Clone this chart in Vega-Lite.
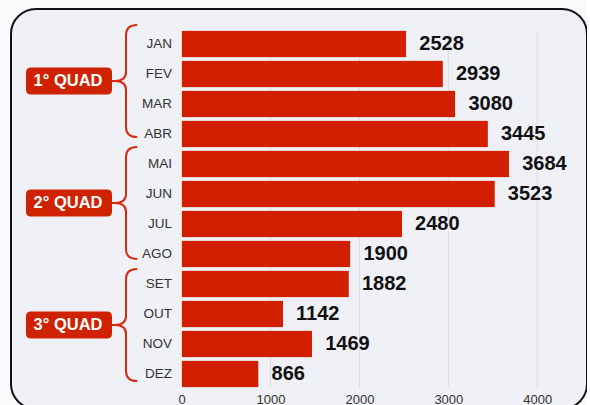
{
  "$schema": "https://vega.github.io/schema/vega-lite/v6.json",
  "width": 576,
  "height": 400,
  "autosize": {"type": "none"},
  "padding": {"left": 11, "top": 9, "right": 0, "bottom": 0},
  "background": "#fafafc",
  "config": {
    "view": {"stroke": "#111111", "strokeWidth": 2, "cornerRadius": 25, "fill": "#f0f0f7"},
    "font": "Liberation Sans"
  },
  "datasets": {
    "months": [
      {"month": "JAN", "value": 2528},
      {"month": "FEV", "value": 2939},
      {"month": "MAR", "value": 3080},
      {"month": "ABR", "value": 3445},
      {"month": "MAI", "value": 3684},
      {"month": "JUN", "value": 3523},
      {"month": "JUL", "value": 2480},
      {"month": "AGO", "value": 1900},
      {"month": "SET", "value": 1882},
      {"month": "OUT", "value": 1142},
      {"month": "NOV", "value": 1469},
      {"month": "DEZ", "value": 866}
    ],
    "grid": [{"tick": 1000}, {"tick": 2000}, {"tick": 3000}, {"tick": 4000}],
    "quads": [{"quad": "1° QUAD"}, {"quad": "2° QUAD"}, {"quad": "3° QUAD"}]
  },
  "layer": [
    {
      "layer": [
        {
          "data": {"name": "grid"},
          "mark": {"type": "rule", "color": "#dcdce4", "strokeWidth": 1, "yOffset": -13.5, "y2Offset": 13.5},
          "encoding": {
            "x": {"field": "tick", "type": "quantitative", "scale": {"domain": [-1917, 4559], "nice": false, "zero": false}},
            "y": {"datum": "JAN", "type": "nominal"},
            "y2": {"datum": "DEZ"}
          }
        },
        {
          "data": {"name": "months"},
          "mark": {"type": "bar", "color": "#d21f00", "cornerRadius": 1},
          "encoding": {
            "y": {
              "field": "month", "type": "nominal", "sort": null,
              "scale": {"domain": ["JAN", "FEV", "MAR", "ABR", "MAI", "JUN", "JUL", "AGO", "SET", "OUT", "NOV", "DEZ"], "paddingInner": 0.1, "paddingOuter": 0.7167},
              "axis": {"title": null, "orient": "left", "offset": -170.5, "ticks": false, "domain": false, "labelPadding": 10, "labelFontSize": 13.5, "labelColor": "#333333", "labelFont": "Liberation Sans"}
            },
            "x": {
              "field": "value", "type": "quantitative",
              "scale": {"domain": [-1917, 4559], "nice": false, "zero": false},
              "axis": {"title": null, "values": [0, 1000, 2000, 3000, 4000], "format": "d", "offset": -20, "grid": false, "ticks": false, "domain": false, "labelPadding": 4, "labelFontSize": 13, "labelColor": "#333333", "labelFont": "Liberation Sans"}
            }
          }
        },
        {
          "data": {"name": "months"},
          "mark": {"type": "text", "align": "left", "baseline": "middle", "dx": 13, "fontSize": 20, "fontWeight": "bold", "color": "#111111", "font": "Liberation Sans"},
          "encoding": {
            "y": {"field": "month", "type": "nominal", "sort": null},
            "x": {"field": "value", "type": "quantitative"},
            "text": {"field": "value", "type": "quantitative", "format": "d"}
          }
        }
      ]
    },
    {
      "data": {"name": "quads"},
      "encoding": {
        "y": {
          "field": "quad", "type": "nominal", "sort": null,
          "scale": {"type": "point", "padding": 0.639, "align": 0.4615},
          "axis": null
        }
      },
      "layer": [
        {
          "mark": {
            "type": "point", "filled": false, "stroke": "#d42a10", "strokeWidth": 2, "opacity": 1, "size": 12544,
            "shape": "M0.2,-1 Q0,-1 0,-0.82 L0,-0.16 Q0,0 -0.2,0 Q0,0 0,0.16 L0,0.82 Q0,1 0.2,1 M-0.2,0 L-0.26,0"
          },
          "encoding": {"x": {"datum": -624, "type": "quantitative"}}
        },
        {
          "mark": {
            "type": "point", "filled": true, "fill": "#cf2200", "strokeWidth": 0, "opacity": 1, "size": 7396,
            "shape": "M-0.884,-0.314 L0.884,-0.314 Q1,-0.314 1,-0.198 L1,0.198 Q1,0.314 0.884,0.314 L-0.884,0.314 Q-1,0.314 -1,0.198 L-1,-0.198 Q-1,-0.314 -0.884,-0.314 Z"
          },
          "encoding": {"x": {"datum": -1265, "type": "quantitative"}}
        },
        {
          "mark": {"type": "text", "align": "center", "baseline": "middle", "dx": -1, "fontSize": 16.5, "fontWeight": "bold", "color": "#ffffff", "font": "Liberation Sans"},
          "encoding": {
            "x": {"datum": -1265, "type": "quantitative"},
            "text": {"field": "quad", "type": "nominal"}
          }
        }
      ]
    }
  ],
  "resolve": {"scale": {"y": "independent"}}
}
